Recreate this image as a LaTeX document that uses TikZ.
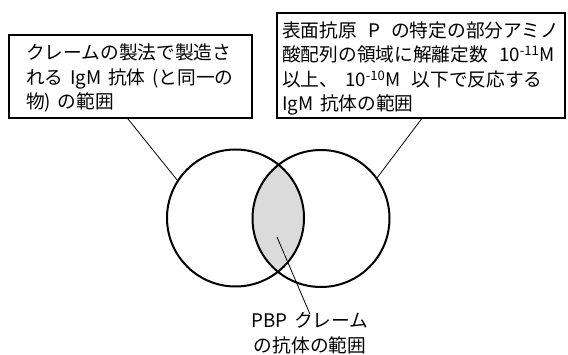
\documentclass[tikz,border=0pt]{standalone}
\usepackage{fontspec}
\setmainfont{Noto Sans CJK JP}
\newcommand{\sgap}{\hspace{0.36em}}
\newcommand{\bgap}{\hspace{0.6em}}
\begin{document}
\begin{tikzpicture}[x=1pt,y=-1pt,
  box/.style={draw=black,line width=2pt,rectangle,inner sep=0pt,fill=white},
  ring/.style={draw=black,line width=2pt,circle,inner sep=0pt,minimum size=137pt},
  txt/.style={inner sep=0pt,align=left,font=\fontsize{18.7}{24.5}\selectfont},
  lead/.style={draw=black,line width=0.8pt}]
\useasboundingbox (0,0) rectangle (568,355);
% boxes
\node[box,minimum width=243pt,minimum height=83pt] (lbox) at (130.5,76.5) {};
\node[box,minimum width=288pt,minimum height=105pt] (rbox) at (421,65.5) {};
\node[txt,anchor=west] (ltext) at ([xshift=18pt,yshift=-1.5pt]lbox.west)
  {クレームの製法で製造さ\\れる\sgap IgM\sgap 抗体\sgap (と同一の\\物)\sgap の範囲};
\node[txt,anchor=west] (rtext) at ([xshift=6pt,yshift=-3pt]rbox.west)
  {表面抗原\bgap P\bgap の特定の部分アミノ\\酸配列の領域に解離定数\bgap 10\textsuperscript{-11}M\\以上、\sgap 10\textsuperscript{-10}M\bgap 以下で反応する\\IgM\sgap 抗体の範囲};
% circles
\coordinate (lc) at (235.5,218);
\coordinate (rc) at (321,218.5);
\begin{scope}
  \clip (lc) circle[radius=68.5pt];
  \fill[black!14] (rc) circle[radius=68.5pt];
\end{scope}
\node[ring] (lcirc) at (lc) {};
\node[ring] (rcirc) at (rc) {};
% bottom label
\node[txt,align=center] (blabel) at (310,333) {PBP\sgap クレーム\\の抗体の範囲};
\coordinate (inter) at (277,237);
% connectors
\draw[lead] ([xshift=-2.5pt]lbox.south) -- (lcirc.147);
\draw[lead] ([xshift=0.5pt]rbox.south) -- (rcirc.36);
\draw[lead] (inter) -- ([yshift=-2pt]blabel.north);
\end{tikzpicture}
\end{document}
